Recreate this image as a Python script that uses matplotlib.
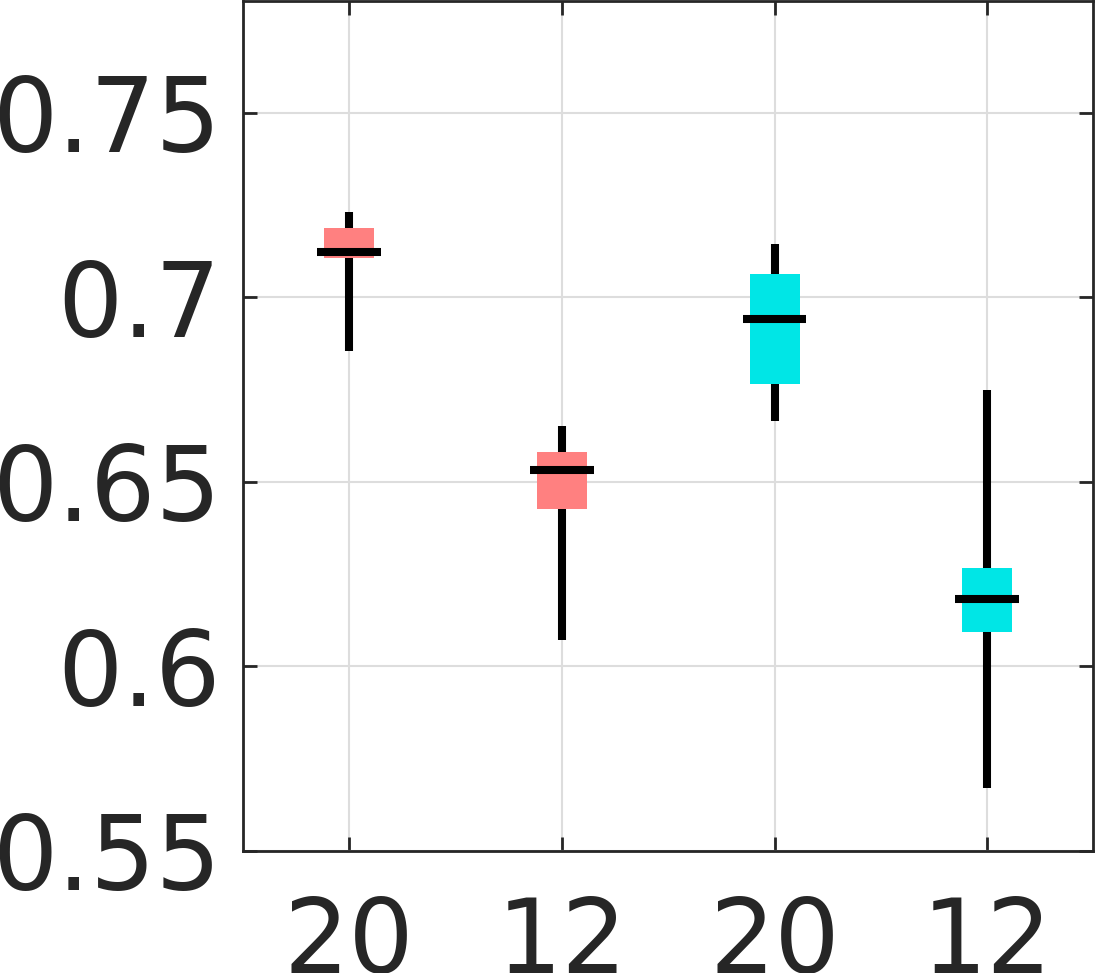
import matplotlib
matplotlib.use("Agg")
import matplotlib.pyplot as plt

labels = ["20", "12", "20", "12"]
whislo = [0.6854, 0.6071, 0.6666, 0.5672]
q1 = [0.7107, 0.6426, 0.6764, 0.6094]
med = [0.7122, 0.6533, 0.6942, 0.6183]
q3 = [0.7188, 0.6581, 0.7063, 0.6268]
whishi = [0.7232, 0.6652, 0.7145, 0.6748]
colors = ["#FF8080", "#FF8080", "#00E6E6", "#00E6E6"]

fig = plt.figure(figsize=(10.96, 9.73), dpi=100)
ax = fig.add_axes([0.2217, 0.1254, 0.776, 0.8736])

stats = [dict(label=l, whislo=a, q1=b, med=c, q3=d, whishi=e)
         for l, a, b, c, d, e in zip(labels, whislo, q1, med, q3, whishi)]
pos = list(range(1, len(labels) + 1))
bp = ax.bxp(stats, positions=pos, widths=0.235, patch_artist=True,
            showfliers=False, showcaps=False,
            whiskerprops=dict(color="black", linewidth=5.8, solid_capstyle="butt"),
            medianprops=dict(color="black", linewidth=5.8, solid_capstyle="butt"),
            boxprops=dict(linewidth=0), zorder=3)
for patch, c in zip(bp["boxes"], colors):
    patch.set_facecolor(c)
    patch.set_edgecolor(c)
    patch.set_zorder(3)
for w in bp["whiskers"]:
    w.set_zorder(2)
for m in bp["medians"]:
    m.set_zorder(4)
    x0, x1 = m.get_xdata()
    cx = (x0 + x1) / 2
    m.set_xdata([cx - 0.15, cx + 0.15])

ax.set_xlim(0.5, 4.5)
ax.set_ylim(0.55, 0.7803)
ax.set_yticks([0.55, 0.6, 0.65, 0.7, 0.75])
ax.set_yticklabels(["0.55", "0.6", "0.65", "0.7", "0.75"])
ax.set_xticks(pos)
ax.set_xticklabels(labels)
ax.grid(True, color="#dddddd", linewidth=1.5, zorder=0)
ax.set_axisbelow(True)
for s in ax.spines.values():
    s.set_color("#262626")
    s.set_linewidth(2)
ax.tick_params(axis="both", direction="in", length=10, width=2, color="#262626",
               labelsize=74, labelcolor="#262626", right=True, top=True)
ax.tick_params(axis="y", pad=16)
ax.tick_params(axis="x", pad=31)

fig.savefig("out.png", dpi=100)
